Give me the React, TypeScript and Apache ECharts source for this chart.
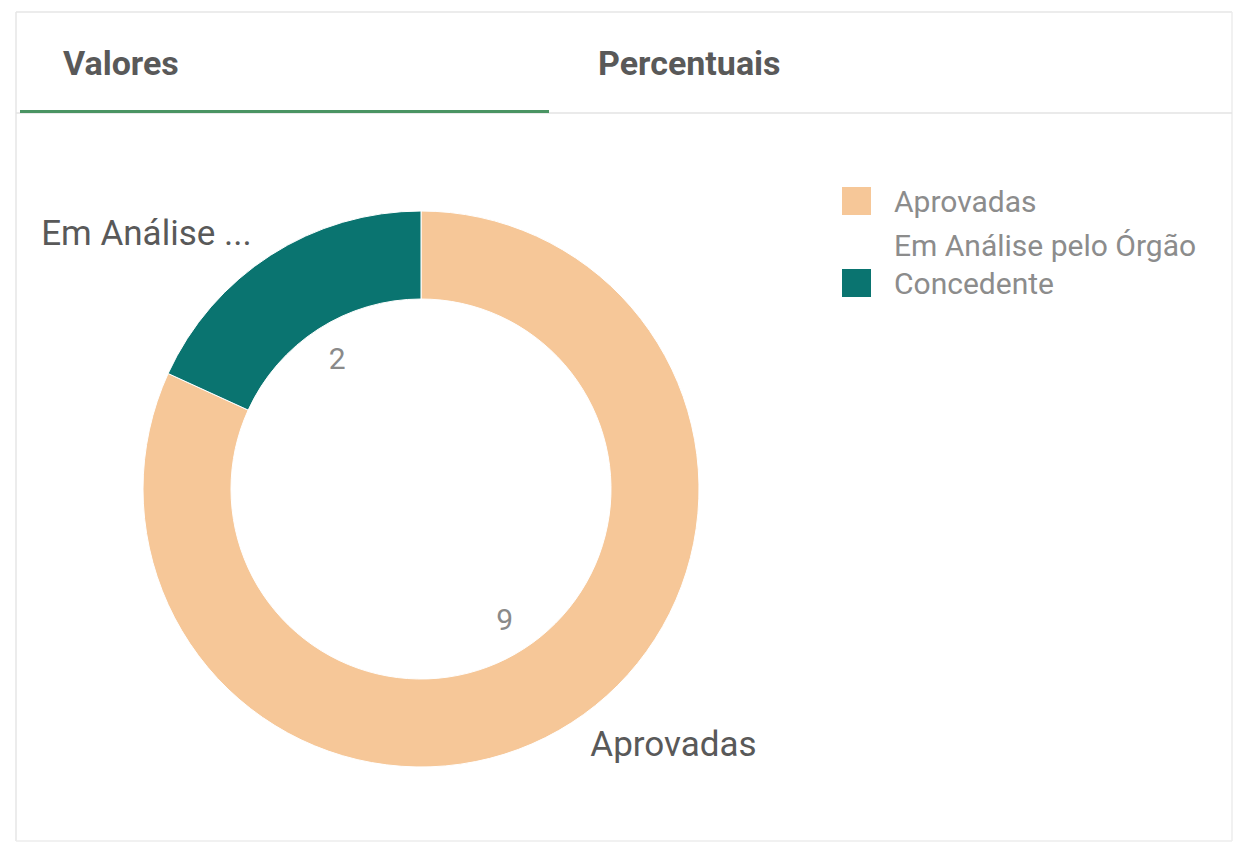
import React, { useEffect, useRef } from "react";
import * as echarts from "echarts";

const categories = ["Aprovadas", "Em Análise pelo Órgão Concedente"];
const values = [9, 2];
const colors = ["#F6C798", "#0A7470"];
const tabLabels = ["Valores", "Percentuais"];

const FONT = "Roboto, 'Open Sans', sans-serif";

function shortName(name: string): string {
  return name.length > 14 ? name.slice(0, 10) + " ..." : name;
}

export default function App() {
  const ref = useRef<HTMLDivElement>(null);

  useEffect(() => {
    if (!ref.current) return;
    const chart = echarts.init(ref.current, undefined, { renderer: "svg" });
    const pieData = categories.map((c, i) => ({
      name: c,
      value: values[i],
      itemStyle: { color: colors[i] },
    }));
    const ghostData = categories.map((c, i) => ({ name: c, value: values[i] }));

    chart.setOption({
      animation: false,
      backgroundColor: "#ffffff",
      legend: {
        orient: "vertical",
        left: 840,
        top: 182,
        padding: 0,
        itemGap: 6,
        itemWidth: 31,
        itemHeight: 30,
        icon: "rect",
        selectedMode: false,
        formatter: (name: string) => (name.length > 14 ? name + "\n " : name),
        textStyle: {
          fontFamily: FONT,
          fontSize: 30,
          color: "#8c8c8c",
          lineHeight: 38,
          width: 350,
          overflow: "break",
          padding: [0, 0, 0, 17],
        },
        data: categories,
      },
      graphic: [
        { type: "line", shape: { x1: 16, y1: 12, x2: 1232, y2: 12 }, style: { stroke: "#e6e6e6", lineWidth: 1.5 } },
        { type: "line", shape: { x1: 16, y1: 12, x2: 16, y2: 841 }, style: { stroke: "#e6e6e6", lineWidth: 1.5 } },
        { type: "line", shape: { x1: 1232, y1: 12, x2: 1232, y2: 841 }, style: { stroke: "#ececec", lineWidth: 1.5 } },
        { type: "line", shape: { x1: 16, y1: 841, x2: 1232, y2: 841 }, style: { stroke: "#ececec", lineWidth: 1.5 } },
        { type: "line", shape: { x1: 16, y1: 113, x2: 1232, y2: 113 }, style: { stroke: "#e3e3e3", lineWidth: 1.5 } },
        { type: "line", shape: { x1: 20, y1: 111.5, x2: 549, y2: 111.5 }, style: { stroke: "#4a9463", lineWidth: 3 } },
        {
          type: "text",
          x: 63,
          y: 63,
          style: {
            text: tabLabels[0],
            fontFamily: FONT,
            fontWeight: "bold",
            fontSize: 34,
            fill: "#595959",
            verticalAlign: "middle",
          },
        },
        {
          type: "text",
          x: 598,
          y: 63,
          style: {
            text: tabLabels[1],
            fontFamily: FONT,
            fontWeight: "bold",
            fontSize: 34,
            fill: "#595959",
            verticalAlign: "middle",
          },
        },
      ],
      series: [
        {
          type: "pie",
          name: "main",
          center: [421, 489],
          radius: [190, 278],
          startAngle: 90,
          clockwise: true,
          avoidLabelOverlap: false,
          emphasis: { disabled: true },
          itemStyle: { borderColor: "#ffffff", borderWidth: 1 },
          label: {
            show: true,
            position: "outside",
            fontFamily: FONT,
            fontSize: 35,
            color: "#595959",
            distanceToLabelLine: 5,
            formatter: (p: any) => shortName(p.name),
          },
          labelLine: { show: false, length: 26, length2: 0 },
          data: pieData,
        },
        {
          type: "pie",
          name: "values",
          center: [421, 489],
          radius: [0, 304],
          startAngle: 90,
          clockwise: true,
          silent: true,
          emphasis: { disabled: true },
          itemStyle: { color: "rgba(0,0,0,0)" },
          label: {
            show: true,
            position: "inside",
            fontFamily: FONT,
            fontSize: 30,
            color: "#8a8a8a",
            formatter: (p: any) => String(p.value),
          },
          labelLine: { show: false },
          data: ghostData,
        },
      ],
    });

    return () => chart.dispose();
  }, []);

  return (
    <div
      ref={ref}
      style={{ position: "absolute", left: 0, top: 0, width: 1238, height: 846 }}
    />
  );
}
